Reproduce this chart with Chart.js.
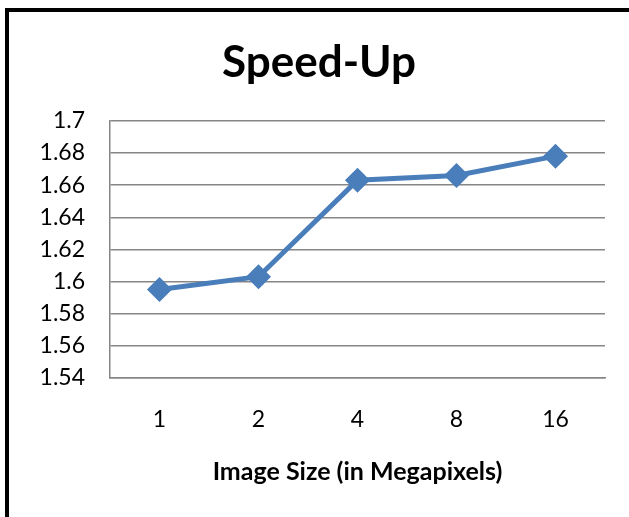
<!DOCTYPE html>
<html>
<head>
<meta charset="utf-8">
<script src="https://cdn.jsdelivr.net/npm/chart.js@4"></script>
<style>
  html, body { margin: 0; padding: 0; background: #fff; }
  #frame {
    position: absolute; left: 5px; top: 8px; width: 640px; height: 520px;
    border-left: 4px solid #000; border-top: 4px solid #000;
  }
  #wrap { position: absolute; left: 0; top: 0; width: 629px; height: 517px; }
</style>
</head>
<body>
<div id="frame"></div>
<div id="wrap"><canvas id="speedup-chart" width="629" height="517"></canvas></div>
<script>
const sizes = ["1", "2", "4", "8", "16"];
const speedUp = [1.595, 1.603, 1.663, 1.666, 1.678];
const yMin = 1.54;
const yMax = 1.7;
const yStep = 0.02;

const ctx = document.getElementById("speedup-chart").getContext("2d");
const font = "Lato, 'Open Sans', sans-serif";

new Chart(ctx, {
    type: "line",
    data: {
        labels: sizes,
        datasets: [{
            label: "Speed-Up",
            data: speedUp,
            borderColor: "#4A7EBB",
            backgroundColor: "#4A7EBB",
            borderWidth: 5,
            pointStyle: "rectRot",
            pointRadius: 9,
            pointHoverRadius: 9,
            tension: 0,
            fill: false
        }]
    },
    options: {
        responsive: false,
        animation: false,
        layout: { padding: { left: 33, right: 24, top: 0, bottom: 0 } },
        plugins: {
            legend: { display: false },
            tooltip: { enabled: false },
            title: {
                display: true,
                text: "Speed-Up",
                color: "#000",
                font: { family: font, size: 44, weight: "bold" },
                padding: { top: 36, bottom: 32 }
            }
        },
        scales: {
            x: {
                offset: true,
                afterFit: scale => { scale.height = 139; },
                grid: { display: false, drawTicks: false },
                border: { display: true, color: "#868686", width: 1.5 },
                ticks: { color: "#000", font: { family: font, size: 23 }, padding: 28 },
                title: {
                    display: true,
                    text: "Image Size (in Megapixels)",
                    color: "#000",
                    font: { family: font, size: 25, weight: "bold" },
                    padding: { top: 10, bottom: 30 }
                }
            },
            y: {
                min: yMin,
                max: yMax,
                afterFit: scale => { scale.width = 77; },
                grid: { color: "#868686", lineWidth: 1.5, drawTicks: false },
                border: { display: true, color: "#868686", width: 1.5 },
                ticks: {
                    stepSize: yStep,
                    color: "#000",
                    padding: 25,
                    font: { family: font, size: 23 },
                    callback: v => parseFloat(v.toFixed(2)).toString()
                }
            }
        }
    }
});
</script>
</body>
</html>
